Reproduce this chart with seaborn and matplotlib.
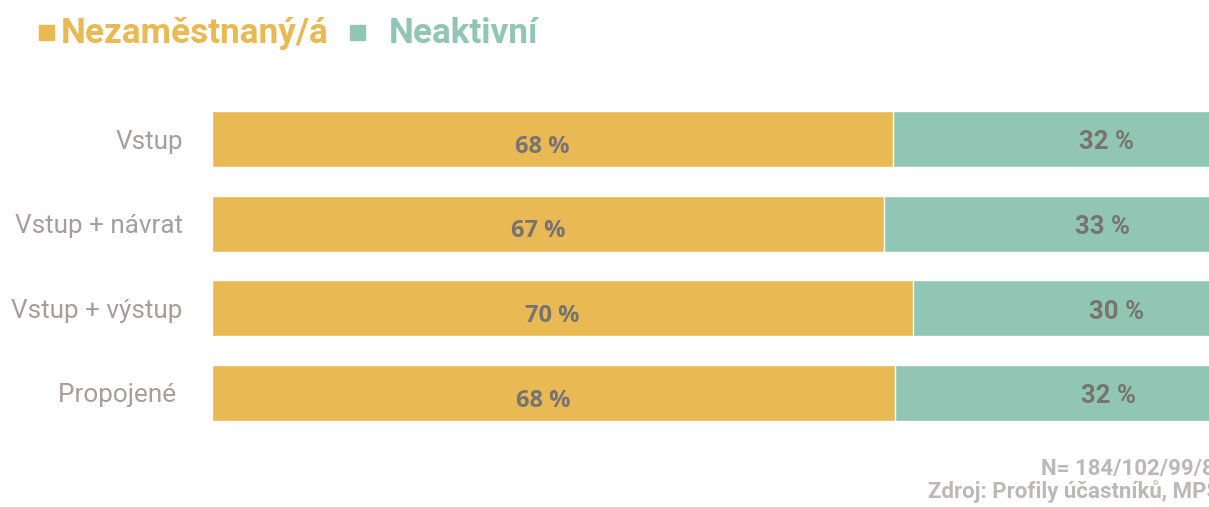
import matplotlib
matplotlib.use("Agg")
import matplotlib.pyplot as plt
import matplotlib.patches as mpatches
import pandas as pd
import seaborn as sns

# --- data ---
categories = ["Vstup", "Vstup + návrat", "Vstup + výstup", "Propojené "]
unemployed = [68.0, 67.1, 70.0, 68.2]      # Nezaměstnaný/á (%)
inactive = [32, 33, 30, 32]                # Neaktivní (%)
series_names = ["Nezaměstnaný/á", "Neaktivní"]
note_lines = ["N= 184/102/99/85", "Zdroj: Profily účastníků, MPSV"]

# --- style ---
YELLOW = "#E9B953"
TEAL = "#90C6B3"
CAT_GREY = "#A89D9D"
VAL_GREY = "#787373"
NOTE_GREY = "#BDB8B8"
W, H = 1209, 507

sns.set_theme(style="white")
plt.rcParams["font.family"] = ["Roboto", "DejaVu Sans"]

df = pd.DataFrame({"cat": categories, "unemp": unemployed, "inact": inactive})
df["total"] = df["unemp"] + df["inact"]

fig = plt.figure(figsize=(W / 100, H / 100), dpi=100)
# axes run past the right edge, the original chart is cut off there
ax = fig.add_axes([212 / W, 1 - 435.3 / H, 1002 / W, 338.6 / H])

sns.barplot(data=df, x="total", y="cat", orient="h", color=TEAL,
            saturation=1, width=0.66, ax=ax)
sns.barplot(data=df, x="unemp", y="cat", orient="h", color=YELLOW,
            saturation=1, width=0.66, edgecolor="white", linewidth=1.0, ax=ax)

ax.set_xlim(0, 100)
ax.set_ylim(3.5, -0.5)
ax.set_xlabel("")
ax.set_ylabel("")
ax.set_xticks([])
for s in ax.spines.values():
    s.set_visible(False)
ax.tick_params(axis="y", length=0, pad=21, labelsize=18.8, labelcolor=CAT_GREY)

# value labels
for i, (u, n) in enumerate(zip(unemployed, inactive)):
    ax.text(u / 2 - 1, i + 0.09, f"{round(u)} %", ha="center", va="center",
            fontsize=17, fontweight="bold", color=VAL_GREY, family="Open Sans")
    ax.text(u + n / 2 + 5.3, i + 0.04, f"{n} %", ha="center", va="center",
            fontsize=18.5, fontweight="bold", color=VAL_GREY)

# legend drawn by hand (colored squares + colored bold text)
for name, col, sq_x, txt_x in zip(series_names, [YELLOW, TEAL], [39, 350], [61, 389]):
    fig.patches.append(mpatches.Rectangle((sq_x / W, 1 - 40 / H), 15 / W, 15 / H,
                                          transform=fig.transFigure, color=col))
    fig.text(txt_x / W, 1 - 43 / H, name, ha="left", va="baseline",
             fontsize=25.3, fontweight="bold", color=col)

# source note (cut off at the right edge like the reference)
fig.text(1041 / W, 1 - 475 / H, note_lines[0], ha="left", va="baseline",
         fontsize=16, fontweight="bold", color=NOTE_GREY)
fig.text(928 / W, 1 - 498 / H, note_lines[1], ha="left", va="baseline",
         fontsize=16, fontweight="bold", color=NOTE_GREY)

fig.savefig("out.png", dpi=100)
